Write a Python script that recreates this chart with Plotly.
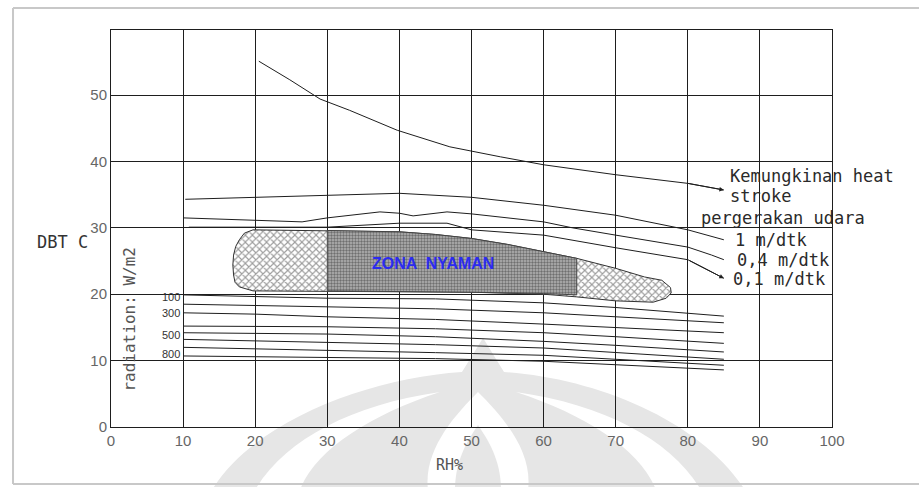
import plotly.graph_objects as go

# ---------------- data ----------------
x_ticks = [0, 10, 20, 30, 40, 50, 60, 70, 80, 90, 100]
y_ticks = [0, 10, 20, 30, 40, 50]

heat_x = [20.5, 24.8, 29, 33.1, 39.7, 47, 54, 60, 70, 80, 85]
heat_y = [55.1, 52.3, 49.4, 47.7, 44.7, 42.2, 40.7, 39.5, 38.0, 36.7, 35.7]

air1_x = [10.3, 20, 29, 30, 40, 50, 60, 70, 80, 85]
air1_y = [34.3, 34.6, 34.8, 34.9, 35.2, 34.6, 33.4, 31.9, 29.7, 28.2]

air04_x = [10, 20, 26.5, 30, 37.3, 40, 41.9, 46.6, 50, 60, 64, 70, 80, 83.3, 85]
air04_y = [31.5, 31.2, 30.9, 31.5, 32.4, 32.2, 31.8, 32.4, 32.1, 30.9, 30.0, 28.9, 27.1, 25.9, 25.2]

air01_x = [10.8, 20, 30, 40, 46.6, 50, 60, 70, 80, 85]
air01_y = [30.1, 30.1, 30.1, 30.7, 30.7, 29.7, 28.9, 27.0, 25.2, 22.4]

rad_x = [10, 20, 30, 45, 60, 70, 85]
rad_lines = [
    [19.9, 19.7, 19.4, 19.3, 18.7, 18.0, 16.7],
    [18.5, 18.3, 18.1, 17.8, 17.2, 16.6, 15.7],
    [17.2, 17.0, 16.6, 16.2, 15.5, 15.0, 14.2],
    [15.2, 15.2, 15.1, 14.8, 14.2, 13.6, 12.6],
    [14.2, 14.1, 14.0, 13.6, 12.9, 12.3, 11.3],
    [13.2, 13.0, 12.8, 12.4, 11.9, 11.2, 10.2],
    [12.0, 11.8, 11.6, 11.2, 10.8, 10.2, 9.3],
    [10.7, 10.6, 10.5, 10.3, 9.9, 9.4, 8.6],
]
rad_labels = ["100", "300", "500", "800"]
rad_label_y = [19.6, 17.2, 13.9, 11.0]

zone_x = [19.7, 30, 40, 45, 50, 55, 60, 64.6, 70, 74, 76.4, 77.6, 77.7, 77.0, 75.2, 70,
          64.6, 60, 50, 40, 30, 19.7, 17.8, 17.2, 17.0, 16.9, 17.0, 17.3, 17.8, 18.5, 19.7]
zone_y = [29.7, 29.6, 29.4, 29.0, 28.4, 27.5, 26.4, 25.4, 23.9, 22.6, 22.1, 21.0, 20.2, 19.4, 18.8, 19.0,
          19.6, 20.0, 20.3, 20.4, 20.5, 20.5, 21.1, 21.8, 22.9, 24.4, 25.9, 27.2, 28.2, 29.2, 29.7]

core_x = [30, 40, 45, 50, 55, 60, 64.6, 64.6, 60, 50, 40, 30, 30]
core_y = [29.6, 29.4, 29.0, 28.4, 27.5, 26.4, 25.4, 19.9, 20.1, 20.3, 20.4, 20.5, 29.6]

# ---------------- figure ----------------
LINE = "#1e1e1e"
fig = go.Figure()

# comfort zone (cross-hatched outer)
fig.add_trace(go.Scatter(x=zone_x, y=zone_y, mode="lines", fill="toself",
                         line=dict(color="#333", width=1),
                         fillcolor="white",
                         fillpattern=dict(shape="x", size=5, solidity=0.4,
                                          fgcolor="#3a3a3a", bgcolor="white"),
                         hoverinfo="skip", showlegend=False))
# comfort zone (dense core)
fig.add_trace(go.Scatter(x=core_x, y=core_y, mode="lines", fill="toself",
                         line=dict(color="#444", width=1),
                         fillcolor="#8a8a8a",
                         fillpattern=dict(shape=".", size=3, solidity=0.5,
                                          fgcolor="#2a2a2a", bgcolor="#b4b4b4"),
                         hoverinfo="skip", showlegend=False))

# radiation lines
for ys in rad_lines:
    fig.add_trace(go.Scatter(x=rad_x, y=ys, mode="lines",
                             line=dict(color=LINE, width=1),
                             hoverinfo="skip", showlegend=False))

# air movement lines and heat-stroke line
for xs, ys in [(air1_x, air1_y), (air04_x, air04_y), (air01_x, air01_y), (heat_x, heat_y)]:
    fig.add_trace(go.Scatter(x=xs, y=ys, mode="lines",
                             line=dict(color=LINE, width=1),
                             hoverinfo="skip", showlegend=False))

# arrowheads
for xs, ys in [(heat_x, heat_y), (air01_x, air01_y)]:
    fig.add_annotation(x=xs[-1], y=ys[-1], ax=xs[-2], ay=ys[-2], axref="x", ayref="y",
                       xref="x", yref="y", text="", showarrow=True,
                       arrowhead=2, arrowsize=0.9, arrowwidth=1, arrowcolor=LINE)

# text annotations
MONO = "DejaVu Sans Mono"
txt = "#2a2a2a"
right_texts = [
    ("Kemungkinan heat", 85.6, 37.8),
    ("stroke", 85.6, 34.86),
    ("pergerakan udara", 81.6, 31.5),
    ("1 m/dtk", 86.3, 28.1),
    ("0,4 m/dtk", 86.5, 25.23),
    ("0,1 m/dtk", 86.0, 22.36),
]
for t, x, y in right_texts:
    fig.add_annotation(x=x, y=y, text=t, showarrow=False, xanchor="left", yanchor="middle",
                       font=dict(family=MONO, size=17, color=txt))

for lab, y in zip(rad_labels, rad_label_y):
    fig.add_annotation(x=9.9, y=y, text=lab, showarrow=False, xanchor="right", yanchor="middle",
                       font=dict(family="Liberation Sans", size=11, color="#333"))

L, R, T, B = 111, 832, 30, 427

fig.add_annotation(x=2.6, y=16.3, text="radiation: W/m2", textangle=-90, showarrow=False,
                   font=dict(family=MONO, size=16, color="#555"))
fig.add_annotation(x=(62 - L) / (R - L), xref="paper", y=27.9, text="DBT C", showarrow=False,
                   xanchor="center", yanchor="middle",
                   font=dict(family=MONO, size=17, color="#333"))
fig.add_annotation(x=47.0, y=(B - 465) / (B - T), yref="paper", text="RH%", showarrow=False,
                   xanchor="center", yanchor="middle",
                   font=dict(family=MONO, size=15, color="#555"))
fig.add_annotation(x=44.7, y=24.7, text="ZONA  NYAMAN", showarrow=False,
                   font=dict(family="Liberation Sans", size=16, color="#2b2bf0", weight="bold"))

# ---------------- decoration: frame + faint watermark ----------------


def px_path(cmds):
    out = []
    for c in cmds:
        if isinstance(c, str):
            out.append(c)
        else:
            px, py = c
            out.append(f"{(px - L) / (R - L):.4f},{(B - py) / (B - T):.4f}")
    return " ".join(out)


wm_gray = "#e6e6e6"
wm = [
    (["M", (212, 490), "C", (255, 420), (370, 378), (462, 372), "L", (483, 338), "L", (504, 372),
      "C", (595, 378), (700, 420), (745, 490), "Z"], wm_gray),
    (["M", (255, 490), "C", (285, 440), (350, 405), (440, 392), "C", (370, 415), (315, 450), (300, 490), "Z"], "white"),
    (["M", (701, 490), "C", (671, 440), (606, 405), (516, 392), "C", (586, 415), (641, 450), (656, 490), "Z"], "white"),
    (["M", (428, 490), "C", (423, 450), (455, 415), (478, 392), "C", (501, 415), (533, 450), (528, 490), "Z"], "white"),
    (["M", (455, 490), "C", (455, 460), (468, 440), (478, 425), "C", (488, 440), (501, 460), (501, 490), "Z"], wm_gray),
]
for cmds, col in wm:
    fig.add_shape(type="path", path=px_path(cmds), xref="paper", yref="paper",
                  fillcolor=col, line=dict(width=0), layer="below")

# outer picture frame
for cmds in [["M", (13, 8), "L", (919, 8)], ["M", (13, 8), "L", (13, 484)], ["M", (13, 484), "L", (919, 484)]]:
    fig.add_shape(type="path", path=px_path(cmds), xref="paper", yref="paper",
                  line=dict(color="#c8c8c8", width=2), layer="below")

axis_common = dict(showgrid=True, gridcolor=LINE, gridwidth=1, showline=True, mirror=True,
                   linecolor=LINE, linewidth=1, zeroline=False, ticks="",
                   tickfont=dict(family="Liberation Sans", size=15, color="#666"))
fig.update_xaxes(range=[0, 100], tickvals=x_ticks, ticktext=[str(v) for v in x_ticks], **axis_common)
fig.update_yaxes(range=[0, 59.8], tickvals=y_ticks, ticktext=[str(v) for v in y_ticks], **axis_common)

fig.update_layout(width=919, height=487, margin=dict(l=L, r=919 - R, t=T, b=487 - B),
                  paper_bgcolor="white", plot_bgcolor="rgba(0,0,0,0)", showlegend=False)

fig.write_html("out.html")
